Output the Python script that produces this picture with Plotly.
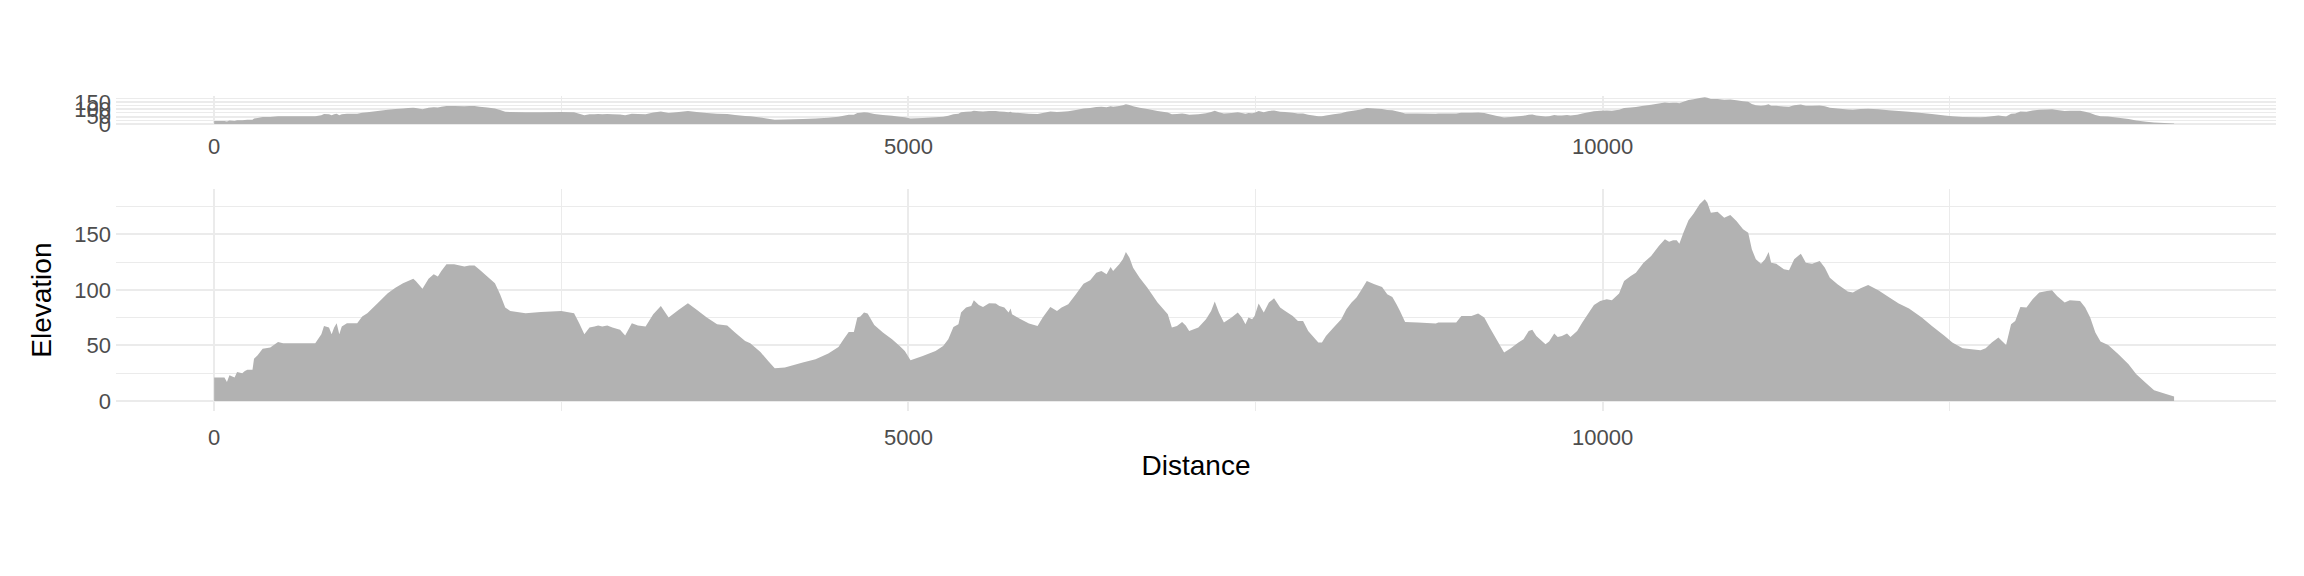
import plotly.graph_objects as go

# Elevation profile (distance in m, elevation in m)
distance = [
    0, 74, 92, 110, 147, 165, 202, 221, 239, 276, 287, 313, 349, 404, 460, 496,
    662, 728, 772, 791, 827, 846, 864, 882, 901, 919, 956, 1030, 1066, 1103,
    1177, 1250, 1305, 1360, 1397, 1434, 1452, 1500, 1544, 1581, 1611, 1636,
    1673, 1728, 1802, 1838, 1875, 1912, 1967, 2022, 2059, 2096, 2133, 2243,
    2353, 2500, 2592, 2629, 2666, 2703, 2739, 2765, 2795, 2831, 2868, 2923,
    2960, 3008, 3052, 3107, 3162, 3217, 3273, 3346, 3412, 3475, 3548, 3622,
    3695, 3751, 3824, 3861, 3934, 3990, 4037, 4110, 4239, 4331, 4423, 4496,
    4533, 4570, 4607, 4632, 4654, 4680, 4706, 4754, 4816, 4882, 4937, 4974,
    5015, 5103, 5195, 5250, 5287, 5324, 5360, 5379, 5415, 5452, 5471, 5507,
    5537, 5581, 5629, 5655, 5691, 5721, 5736, 5746, 5802, 5868, 5930, 5967,
    6022, 6070, 6103, 6151, 6206, 6261, 6309, 6353, 6390, 6427, 6456, 6474,
    6518, 6544, 6566, 6592, 6618, 6665, 6721, 6794, 6868, 6897, 6934, 6971,
    6997, 7022, 7088, 7143, 7180, 7206, 7236, 7272, 7327, 7372, 7401, 7427,
    7449, 7475, 7493, 7522, 7559, 7596, 7633, 7677, 7713, 7768, 7805, 7842,
    7879, 7952, 7978, 8007, 8062, 8117, 8154, 8191, 8227, 8257, 8301, 8356,
    8411, 8448, 8485, 8515, 8540, 8577, 8669, 8798, 8816, 8945, 8982, 9055,
    9103, 9147, 9184, 9239, 9290, 9338, 9393, 9430, 9467, 9493, 9522, 9588,
    9614, 9651, 9676, 9706, 9743, 9768, 9816, 9853, 9908, 9937, 9982, 10029,
    10066, 10118, 10154, 10202, 10239, 10294, 10349, 10404, 10448, 10478,
    10507, 10533, 10552, 10581, 10618, 10654, 10698, 10735, 10754, 10779,
    10827, 10875, 10919, 10963, 11011, 11048, 11074, 11103, 11140, 11169,
    11195, 11213, 11250, 11305, 11342, 11379, 11427, 11463, 11508, 11563,
    11600, 11636, 11691, 11765, 11802, 11857, 11912, 11985, 12059, 12132,
    12206, 12298, 12371, 12463, 12518, 12592, 12721, 12758, 12802, 12850,
    12905, 12941, 12971, 13008, 13052, 13096, 13144, 13199, 13236, 13272,
    13327, 13364, 13438, 13475, 13511, 13548, 13585, 13640, 13714, 13787,
    13843, 13916, 13971, 14045, 14115,
]
elevation = [
    21, 21, 17, 23, 21, 26, 25, 27, 28, 28, 38, 41, 47, 48, 53, 52,
    52, 52, 60, 67.5, 66, 60, 66, 70, 60, 67, 70, 70, 76, 79,
    88, 97, 102, 106, 108, 110, 108, 101, 110, 114, 112, 117,
    123, 123, 121, 122, 122, 118, 112, 106, 96, 84, 81, 79,
    80, 81, 79, 70, 60, 66, 67, 68, 67, 68, 66, 64,
    59, 70, 68, 67, 78, 85.5, 75, 82, 88, 82, 75, 69,
    68, 61.5, 54, 52, 44, 36, 29.4, 30, 34.5, 37.5, 42.6, 48.6,
    55.5, 62, 62, 75, 76, 79.5, 78.6, 68.4, 61.5, 55.5, 49.5, 45,
    36.6, 40.5, 45, 49.5, 55.5, 66.6, 69, 79.5, 84, 85.5, 90.6, 86.4,
    84.6, 87.9, 87.6, 85.5, 84, 79.5, 83.1, 78, 74, 69.6, 67.5, 75,
    84.6, 81, 84, 87, 96, 105.6, 108.6, 115.5, 117, 114, 120.6, 117,
    123, 127.5, 134, 129, 120, 111, 102, 88.5, 78, 66, 67.5, 71,
    68, 63, 66, 73.5, 81, 89.4, 79.5, 70.5, 75, 79.5, 75, 69,
    75, 73.5, 76.5, 87.6, 79.5, 88.5, 92.4, 84, 81, 76.5, 72, 72,
    63, 52.5, 52.5, 58.5, 66, 73.5, 82.5, 88.5, 93, 99, 108, 105,
    102.6, 96, 93.6, 87, 81, 71, 70.5, 69.6, 70.5, 70.5, 76.5, 76.5,
    78.6, 75, 66.6, 54.6, 43.5, 47.4, 52.5, 55.5, 63, 64, 58.5, 51,
    53.4, 60.6, 57.6, 58.5, 60.6, 57.6, 63, 70.5, 81, 86.4, 90, 91.5,
    90.6, 96.6, 108, 112.5, 115.5, 124.5, 130.5, 139.5, 145.5, 143.4,
    144.6, 144.6, 141.6, 151.5, 162.6, 168.6, 177, 181.5, 178.5, 169.5,
    170.4, 165, 167.4, 162, 154.5, 151.5, 136.5, 127.5, 123.6, 127.5,
    134, 124.5, 123.6, 118.5, 117.6, 127.5, 132.6, 124.5, 123.6, 126,
    120, 111, 105, 98.4, 97.5, 101.4, 104.4, 99.6, 93.6, 87.6,
    83.1, 75, 67.5, 58.5, 52.5, 47.4, 45.6, 47.4, 52.5, 57,
    50.4, 69, 72, 84.6, 84, 91.5, 97.5, 99, 99.6, 94.5,
    88.5, 90.6, 90, 84, 75, 61.5, 53.4, 50.4, 42, 33,
    24, 15.6, 9.6, 6.6, 3.9,
]

x_ticks = [0, 5000, 10000]
x_tick_labels = ["0", "5000", "10000"]
x_minor = [2500, 7500, 12500]
y_ticks = [0, 50, 100, 150]
y_tick_labels = ["0", "50", "100", "150"]
y_minor = [25, 75, 125, 175]

FILL = "#B2B2B2"
GRID = "#EBEBEB"
TICKC = "#4D4D4D"
FONT = "Liberation Sans, Arial, sans-serif"

x_range = [-707, 14849]
y_range = [-9.1, 190.6]

fig = go.Figure()
fig.add_trace(go.Scatter(x=distance, y=elevation, fill="tozeroy", mode="none",
                         fillcolor=FILL, xaxis="x", yaxis="y", hoverinfo="x+y"))
fig.add_trace(go.Scatter(x=distance, y=elevation, fill="tozeroy", mode="none",
                         fillcolor=FILL, xaxis="x2", yaxis="y2", hoverinfo="x+y"))

def xax(anchor, standoff, title=None):
    d = dict(anchor=anchor, domain=[0, 1], range=x_range, tickvals=x_ticks,
             ticktext=x_tick_labels, automargin=False,
             showgrid=True, gridcolor=GRID, gridwidth=2.4, zeroline=False,
             showline=False, ticks="", ticklabelstandoff=standoff,
             tickfont=dict(family=FONT, size=22, color=TICKC),
             minor=dict(tickvals=x_minor, showgrid=True, gridcolor=GRID, gridwidth=1.2))
    if title:
        d["title"] = dict(text=title, font=dict(family=FONT, size=28, color="black"), standoff=6)
    return d

def yax(anchor, domain, title=None):
    d = dict(anchor=anchor, domain=domain, range=y_range, tickvals=y_ticks,
             ticktext=y_tick_labels, automargin=False,
             showgrid=True, gridcolor=GRID, gridwidth=2.4, zeroline=False,
             showline=False, ticks="", ticklabelstandoff=4,
             tickfont=dict(family=FONT, size=22, color=TICKC),
             minor=dict(tickvals=y_minor, showgrid=True, gridcolor=GRID, gridwidth=1.2))
    if title:
        d["title"] = dict(text=title, font=dict(family=FONT, size=28, color="black"), standoff=14)
    return d

fig.update_layout(
    width=2304, height=576,
    paper_bgcolor="white", plot_bgcolor="white",
    showlegend=False,
    margin=dict(l=108, r=36, t=88, b=173),
    xaxis=xax("y", 11, "Distance"),
    yaxis=yax("x", [0, 0.704], "Elevation"),
    xaxis2=xax("y2", 6),
    yaxis2=yax("x2", [0.907, 1.0]),
)

fig.write_html("out.html")
